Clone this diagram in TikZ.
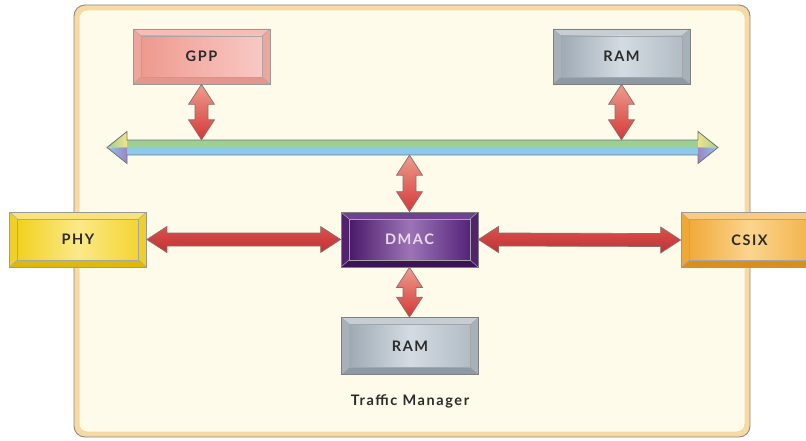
\documentclass[tikz,border=0pt]{standalone}
\usepackage{fontspec}
\setmainfont{Lato}[LetterSpace=11]
\usetikzlibrary{calc}

\definecolor{panelfill}{HTML}{FFFBEA}
\definecolor{panelrim}{HTML}{F7D9A4}
\definecolor{panelline}{HTML}{8E8A84}
\definecolor{arrowred}{HTML}{D43838}
\definecolor{arrowpink}{HTML}{EE9C8C}
\definecolor{arrowline}{HTML}{8A6E6E}
\definecolor{busgreen}{HTML}{9CCF92}
\definecolor{busblue}{HTML}{8CC8EC}
\definecolor{busyellow}{HTML}{EFE48C}
\definecolor{buspurple}{HTML}{9A86C2}
\definecolor{labelgray}{HTML}{2B2B2B}
% block palettes: top bevel, bottom bevel, side bevel, face left/mid/right
\definecolor{gppT}{HTML}{F6BDB6}\definecolor{gppB}{HTML}{E5968C}\definecolor{gppS}{HTML}{EEA59C}
\definecolor{gppL}{HTML}{EE998E}\definecolor{gppM}{HTML}{F4B2AA}\definecolor{gppR}{HTML}{F8C8C4}
\definecolor{ramT}{HTML}{C6CED5}\definecolor{ramB}{HTML}{8D99A4}\definecolor{ramS}{HTML}{A7B1BA}
\definecolor{ramL}{HTML}{9FAAB5}\definecolor{ramM}{HTML}{D4DCE2}\definecolor{ramR}{HTML}{B2BCC5}
\definecolor{phyT}{HTML}{F8E27A}\definecolor{phyB}{HTML}{DDB90E}\definecolor{phyS}{HTML}{EFCF2A}
\definecolor{phyL}{HTML}{F2D11E}\definecolor{phyM}{HTML}{FBE98A}\definecolor{phyR}{HTML}{F4D530}
\definecolor{dmaT}{HTML}{6E4290}\definecolor{dmaB}{HTML}{3C1456}\definecolor{dmaS}{HTML}{52226E}
\definecolor{dmaL}{HTML}{4A1A68}\definecolor{dmaM}{HTML}{9C74B6}\definecolor{dmaR}{HTML}{55247A}
\definecolor{csxT}{HTML}{F8CB80}\definecolor{csxB}{HTML}{D98E1E}\definecolor{csxS}{HTML}{EEA838}
\definecolor{csxL}{HTML}{F1A93A}\definecolor{csxM}{HTML}{FBD58E}\definecolor{csxR}{HTML}{F2B34C}

\tikzset{
  unitbox/.style={minimum width=137pt, minimum height=55pt, inner sep=0pt,
    draw=#1, line width=0.8pt, font=\fontsize{14.5}{14.5}\selectfont\bfseries, text=labelgray},
  % bevelled block: top bevel, bottom bevel, side bevels, face colours (3)
  bevel/.style n args={6}{path picture={
    \fill[#3] (path picture bounding box.south west) rectangle (path picture bounding box.north east);
    \fill[#1] (path picture bounding box.north west) -- (path picture bounding box.north east)
      -- ++(-8,7) -- ($(path picture bounding box.north west)+(8,7)$) -- cycle;
    \fill[#2] (path picture bounding box.south west) -- (path picture bounding box.south east)
      -- ++(-8,-7) -- ($(path picture bounding box.south west)+(8,-7)$) -- cycle;
    \shade[shading angle=60, left color=#4, right color=#6, middle color=#5]
      ($(path picture bounding box.north west)+(8,7)$) rectangle
      ($(path picture bounding box.south east)+(-8,-7)$);
    \draw[black!35, line width=0.5pt]
      ($(path picture bounding box.north west)+(8,7)$) rectangle
      ($(path picture bounding box.south east)+(-8,-7)$);
    \draw[black!35, line width=0.5pt]
      (path picture bounding box.north west) -- ++(8,7)
      (path picture bounding box.north east) -- ++(-8,7)
      (path picture bounding box.south west) -- ++(8,-7)
      (path picture bounding box.south east) -- ++(-8,-7);
  }},
  fatV/.style={draw=arrowline, line width=0.7pt, line join=miter,
    top color=arrowpink, middle color=arrowred!85!arrowpink, bottom color=arrowred},
  fatH/.style={draw=arrowline, line width=0.7pt, line join=miter,
    top color=arrowred!75!arrowpink, bottom color=arrowred!90!black},
}

% vertical double arrow from #1 (upper tip) to #2 (lower tip)
\newcommand\fatvert[2]{%
  \path[fatV] (#1) -- ++(13,20) -- ++(-6.5,0) -- ($(#2)+(6.5,-20)$) -- ++(6.5,0)
    -- (#2) -- ++(-13,-20) -- ++(6.5,0) -- ($(#1)+(-6.5,20)$) -- ++(-6.5,0) -- cycle;}
% horizontal double arrow from #1 (left tip) to #2 (right tip)
\newcommand\fathoriz[2]{%
  \path[fatH] (#1) -- ++(20,-13) -- ++(0,6.5) -- ($(#2)+(-20,-6.5)$) -- ++(0,-6.5)
    -- (#2) -- ++(-20,13) -- ++(0,-6.5) -- ($(#1)+(20,6.5)$) -- ++(0,6.5) -- cycle;}

\begin{document}
\begin{tikzpicture}[x=1pt, y=-1pt]
\useasboundingbox (0,0) rectangle (806,441);
\fill[white] (0,0) rectangle (806,441);

% enclosing board
\draw[panelline, fill=panelrim, line width=0.9pt, rounded corners=11] (74,5) rectangle (750,437);
\fill[panelfill, rounded corners=8] (79.5,10.5) rectangle (744.5,431.5);

% blocks
\node[unitbox=black!40, bevel={gppT}{gppB}{gppS}{gppL}{gppM}{gppR}] (gpp) at (201.5,56.5) {GPP};
\node[unitbox=black!50, bevel={ramT}{ramB}{ramS}{ramL}{ramM}{ramR}] (ramtop) at (621.5,56.5) {RAM};
\node[unitbox=black!40, bevel={phyT}{phyB}{phyS}{phyL}{phyM}{phyR}] (phy) at (78,239.5) {PHY};
\node[unitbox=black!50, text=white!85!violet, bevel={dmaT}{dmaB}{dmaS}{dmaL}{dmaM}{dmaR}] (dmac) at (409.5,239.5) {DMAC};
\node[unitbox=black!40, bevel={csxT}{csxB}{csxS}{csxL}{csxM}{csxR}] (csix) at (749.5,240) {CSIX};
\node[unitbox=black!50, minimum height=57pt, bevel={ramT}{ramB}{ramS}{ramL}{ramM}{ramR}] (rambot) at (410,346) {RAM};

\node[font=\fontsize{14.5}{14.5}\selectfont\bfseries, text=labelgray] (tm) at (410,401) {Traffic Manager};

% shared bus
\coordinate (busW) at (107,147.5);
\coordinate (busE) at (718,147.5);
\node[minimum width=611pt, minimum height=15pt, inner sep=0pt] (bus) at (412.5,147.5) {};
\fill[busgreen] ($(busW)+(20,-7.5)$) rectangle ($(busE)+(-20,0)$);
\fill[busblue] ($(busW)+(20,0)$) rectangle ($(busE)+(-20,7.5)$);
\shade[left color=busgreen, right color=busyellow] (busW) -- ++(20,-16) -- ++(0,16) -- cycle;
\shade[left color=busblue, right color=buspurple] (busW) -- ++(20,16) -- ++(0,-16) -- cycle;
\shade[right color=busgreen, left color=busyellow] (busE) -- ++(-20,-16) -- ++(0,16) -- cycle;
\shade[right color=busblue, left color=buspurple] (busE) -- ++(-20,16) -- ++(0,-16) -- cycle;
\draw[black!55, line width=0.8pt, line join=miter] (busW) -- ++(20,-16) -- ++(0,8.5)
  -- ($(busE)+(-20,-7.5)$) -- ++(0,-8.5) -- (busE) -- ++(-20,16) -- ++(0,-8.5)
  -- ($(busW)+(20,7.5)$) -- ++(0,8.5) -- cycle;

% links
\fatvert{gpp.south}{gpp.south |- bus.north}
\fatvert{ramtop.south}{ramtop.south |- bus.north}
\fatvert{dmac.north |- bus.south}{dmac.north}
\fatvert{dmac.south}{dmac.south |- rambot.north}
\fathoriz{phy.east}{dmac.west}
\fathoriz{dmac.east}{csix.west}
\end{tikzpicture}
\end{document}
